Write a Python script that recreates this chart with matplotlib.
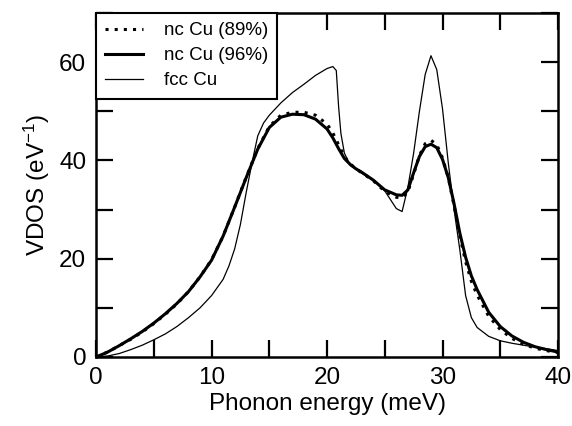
import numpy as np
import matplotlib
matplotlib.use("Agg")
import matplotlib.pyplot as plt

plt.rcParams['font.family'] = ['Liberation Sans', 'DejaVu Sans']
plt.rcParams['mathtext.fontset'] = 'custom'
plt.rcParams['mathtext.rm'] = 'Liberation Sans'
plt.rcParams['mathtext.default'] = 'regular'

# nc Cu (96%) and nc Cu (89%) share the energy grid
e_nc = [0, 1, 2, 3, 4, 5, 6, 7, 8, 9, 10, 11, 12, 13, 14, 15, 16, 17, 18, 19, 20,
        20.5, 21, 21.5, 22, 22.5, 23, 24, 25, 26, 26.5, 27, 27.5, 28, 28.5, 29,
        29.5, 30, 30.5, 31, 31.5, 32, 32.5, 33, 34, 35, 36, 37, 38, 39, 40]
vdos_96 = [0, 1.0, 2.3, 3.7, 5.2, 6.9, 8.8, 10.9, 13.3, 16.3, 19.7, 24.6, 30.5, 36.5,
           42.3, 46.7, 48.8, 49.4, 49.3, 48.4, 46.4, 44.6, 42.4, 40.4, 39.2, 38.3,
           37.6, 36.0, 34.0, 33.0, 32.9, 34.0, 37.5, 40.8, 42.8, 43.3, 42.6, 40.2,
           36.5, 31.2, 25.2, 20.3, 16.5, 13.7, 9.1, 6.2, 4.3, 3.0, 2.1, 1.5, 1.0]
vdos_89 = [0, 1.0, 2.3, 3.6, 5.1, 6.8, 8.7, 10.8, 13.3, 16.3, 19.8, 24.6, 30.5, 36.6,
           42.4, 46.9, 49.2, 49.8, 49.8, 49.2, 47.4, 45.6, 43.2, 40.8, 39.3, 38.3,
           37.5, 35.9, 33.7, 32.5, 32.4, 33.6, 37.2, 41.0, 43.4, 44.1, 43.2, 40.5,
           36.5, 30.8, 24.6, 19.4, 15.4, 12.6, 8.3, 5.6, 3.8, 2.6, 1.8, 1.3, 0.9]

# bulk fcc Cu
e_fcc = [0, 1, 2, 3, 4, 5, 6, 7, 8, 9, 10, 11, 11.5, 12, 12.5, 13, 13.5, 14, 14.5,
         15, 16, 17, 18, 19, 20, 20.5, 20.8, 21, 21.2, 21.5, 22, 23, 24, 24.5, 25,
         25.5, 26, 26.5, 27, 27.5, 28, 28.5, 29, 29.5, 30, 30.5, 31, 31.5, 32,
         32.5, 33, 34, 35, 36, 37, 38, 39, 40]
vdos_fcc = [0, 0.2, 0.7, 1.5, 2.4, 3.5, 4.7, 6.2, 8.0, 10.0, 12.5, 15.8, 18.5, 22.0,
            27.0, 33.5, 39.5, 45.0, 47.6, 49.2, 51.7, 53.8, 55.5, 57.3, 58.7, 59.1,
            58.3, 51.0, 45.5, 41.5, 39.0, 37.4, 36.0, 35.0, 33.8, 32.0, 30.2, 29.6,
            34.5, 41.5, 50.0, 57.5, 61.3, 58.5, 50.5, 39.5, 30.0, 21.8, 12.5, 8.0,
            6.0, 4.2, 3.3, 2.8, 2.4, 2.0, 1.7, 1.3]

fig = plt.figure(figsize=(5.72, 4.26), dpi=100)
ax = fig.add_axes([0.168, 0.162, 0.8075, 0.8075])

ax.plot(e_nc, vdos_89, color='black', lw=2.2, linestyle=(0, (1, 2)), label='nc Cu (89%)')
ax.plot(e_nc, vdos_96, color='black', lw=2.2, label='nc Cu (96%)')
ax.plot(e_fcc, vdos_fcc, color='black', lw=0.9, label='fcc Cu')

ax.set_xlim(0, 40)
ax.set_ylim(0, 70)
ax.set_xticks(np.arange(0, 41, 5))
ax.set_xticklabels(['0', '', '10', '', '20', '', '30', '', '40'])
ax.set_yticks(np.arange(0, 71, 10))
ax.set_yticklabels(['0', '', '20', '', '40', '', '60', ''])
ax.tick_params(direction='in', length=12, width=1.6, top=True, right=True,
               labelsize=17.5, pad=7)
for s in ax.spines.values():
    s.set_linewidth(1.8)

ax.set_xlabel('Phonon energy (meV)', fontsize=17.5, labelpad=3)
ax.set_ylabel('VDOS (eV$^{-1}$)', fontsize=17.5, labelpad=5)

leg = ax.legend(loc='upper left', borderaxespad=0, fontsize=13.5, fancybox=False,
                edgecolor='black', handlelength=2.0, labelspacing=0.42,
                borderpad=0.5, handletextpad=1.1)
leg.get_frame().set_linewidth(1.5)
leg.get_frame().set_alpha(1)

fig.savefig('out.png', dpi=100)
